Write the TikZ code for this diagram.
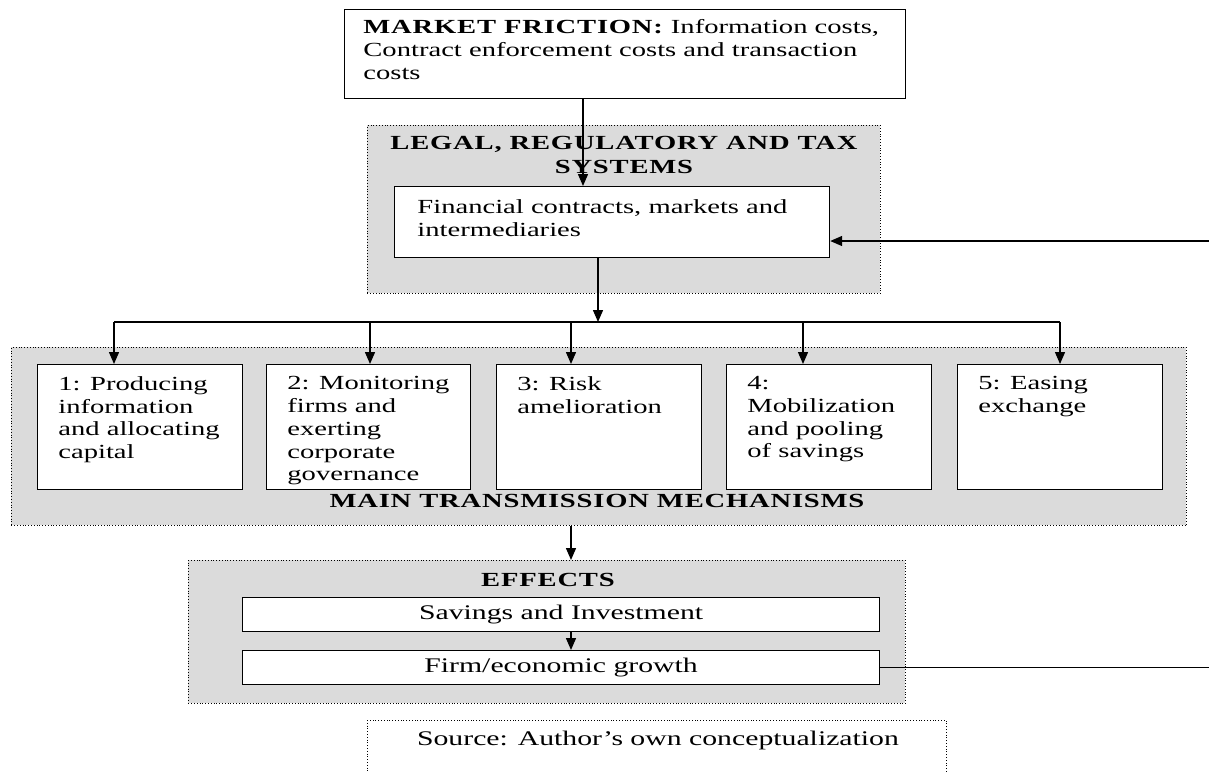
\documentclass[tikz,border=0pt]{standalone}
\usepackage{fontspec}
\setmainfont{Liberation Serif}[FakeStretch=1.43, BoldFeatures={LetterSpace=4}]
\usetikzlibrary{positioning,arrows.meta,calc}
\tikzset{>={Triangle[length=6pt,width=5pt]}}
\tikzset{
  box/.style={draw, fill=white, line width=0.6pt, inner sep=0pt, anchor=north west},
  panel/.style={draw, densely dotted, fill=black!14, inner sep=0pt, anchor=north west},
  txt/.style={inner sep=0pt, align=left, anchor=north west, font=\fontsize{10}{11.4}\selectfont},
  big/.style={font=\fontsize{10.4}{11.4}\selectfont},
  ttl/.style={inner sep=0pt, align=center, font=\bfseries\fontsize{10}{11.8}\selectfont},
  conn/.style={->, line width=0.7pt},
}

\begin{document}
\begin{tikzpicture}[x=0.5pt, y=-0.5pt]
    \useasboundingbox (0,0) rectangle (1209,771);
    \clip (0,0) rectangle (1209,771);
    % panels
    \node[panel, minimum width=256.5pt, minimum height=84pt] (legal) at (367,125) {};
    \node[panel, minimum width=587.5pt, minimum height=89pt] (mainp) at (11,347) {};
    \node[panel, minimum width=358.5pt, minimum height=71.5pt] (effp) at (188,560) {};
    \node[panel, fill=white, minimum width=289.5pt, minimum height=40pt] (src) at (367,720) {};
    % boxes
    \node[box, minimum width=280.5pt, minimum height=44.5pt] (market) at (344,9) {};
    \node[box, minimum width=217.5pt, minimum height=35.5pt] (fin) at (394,186) {};
    \node[box, minimum width=102.5pt, minimum height=62.5pt] (m1) at (37,364) {};
    \node[box, minimum width=102pt, minimum height=62.5pt] (m2) at (266,364) {};
    \node[box, minimum width=102.5pt, minimum height=62.5pt] (m3) at (496,364) {};
    \node[box, minimum width=102.5pt, minimum height=62.5pt] (m4) at (726,364) {};
    \node[box, minimum width=102.5pt, minimum height=62.5pt] (m5) at (957,364) {};
    \node[box, big, minimum width=318.5pt, minimum height=17pt] (sav) at (242,597) {Savings and Investment};
    \node[box, big, minimum width=318.5pt, minimum height=17pt] (grow) at (242,650) {Firm/economic growth};
    % texts
    \node[txt] (mtxt) at (363,19) {\textbf{MARKET FRICTION:} Information costs,\\Contract enforcement costs and transaction\\costs};
    \node[ttl] (ltitle) at (624,155) {LEGAL, REGULATORY AND TAX\\SYSTEMS};
    \node[txt] (ftxt) at (417,199) {Financial contracts, markets and\\intermediaries};
    \node[txt] (t1) at ($(m1.north west)+(21,12)$) {1: Producing\\information\\and allocating\\capital};
    \node[txt] (t2) at ($(m2.north west)+(21,12)$) {2: Monitoring\\firms and\\exerting\\corporate\\governance};
    \node[txt] (t3) at ($(m3.north west)+(21,12)$) {3: Risk\\amelioration};
    \node[txt] (t4) at ($(m4.north west)+(21,12)$) {4:\\Mobilization\\and pooling\\of savings};
    \node[txt] (t5) at ($(m5.north west)+(21,12)$) {5: Easing\\exchange};
    \node[ttl] (mtitle) at (597,501) {MAIN TRANSMISSION MECHANISMS};
    \node[ttl] (etitle) at (548,580) {EFFECTS};
    \node[txt, big, anchor=center] (stxt) at (658,740) {Source: Author’s own conceptualization};
    % connectors
    \coordinate (c1) at (583,0);
    \coordinate (split) at (598,322);
    \coordinate (loop) at (1215,0);
    \coordinate (fb) at (0,241);
    \draw[conn] (market.south -| c1) -- (fin.north -| c1);
    \draw[conn] (fin.south -| split) -- (split);
    \foreach \m/\x in {m1/114, m2/370, m3/571, m4/803, m5/1060}
        \coordinate (d\m) at (\x,322);
    \draw[line width=0.7pt] (dm1) -- (dm5);
    \foreach \m in {m1,m2,m3,m4,m5}
        \draw[conn] (d\m) -- (d\m |- \m.north);
    \draw[conn] (mainp.south -| dm3) -- (effp.north -| dm3);
    \draw[conn] (sav.south -| dm3) -- (grow.north -| dm3);
    \draw[conn] (grow.east) -- (grow.east -| loop) -- (loop |- fb) -- (fb -| fin.east);
\end{tikzpicture}
\end{document}
